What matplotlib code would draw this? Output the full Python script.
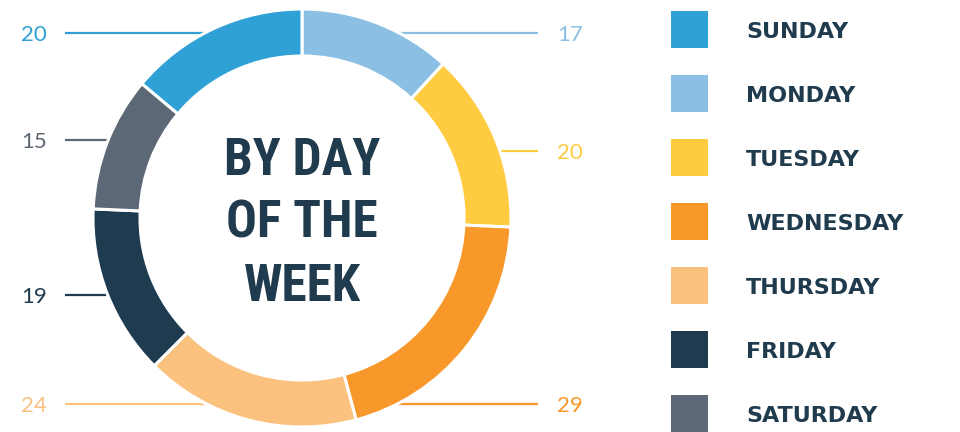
import numpy as np
import matplotlib
matplotlib.use("Agg")
import matplotlib.pyplot as plt
from matplotlib import font_manager as fm
from matplotlib.patches import Rectangle

# datos (orden de la leyenda)
dias = ["SUNDAY", "MONDAY", "TUESDAY", "WEDNESDAY", "THURSDAY", "FRIDAY", "SATURDAY"]
valores = [20, 17, 20, 29, 24, 19, 15]
colores = ["#2fa1d6", "#8bbfe4", "#fecb41", "#f9982a", "#fac17f", "#1f3b4f", "#5d6877"]
titulo = ["BY DAY", "OF THE", "WEEK"]

# posicion de las etiquetas (pixeles desde arriba) y lado
etiqueta_y = [33, 33, 151, 404, 404, 295, 140]
etiqueta_lado = ["izq", "der", "der", "der", "izq", "izq", "izq"]

W, H = 960, 432
cx, cy = 302, H - 218
R = 209
ancho_anillo = 47

nombres = {f.name for f in fm.fontManager.ttflist}
fuente_titulo = "DejaVu Sans"
for candidata in ["Liberation Sans Narrow", "DejaVu Sans Condensed", "Roboto Condensed"]:
    if candidata in nombres:
        fuente_titulo = candidata
        break

fig = plt.figure(figsize=(W / 100, H / 100), dpi=100)
ax = fig.add_axes([0, 0, 1, 1])

# el anillo empieza arriba con el lunes y va en sentido horario
orden = list(range(1, len(dias))) + [0]
ax.pie([valores[i] for i in orden], colors=[colores[i] for i in orden],
       startangle=90, counterclock=False, center=(cx, cy), radius=R,
       wedgeprops=dict(width=ancho_anillo, edgecolor="white", linewidth=2.2))

# lineas guia y numeros
r_fin = R - 9
for i in range(len(dias)):
    y = H - etiqueta_y[i]
    dy = y - cy
    dx = np.sqrt(max(r_fin**2 - dy**2, 0))
    if etiqueta_lado[i] == "izq":
        ax.plot([65, cx - dx], [y, y], color=colores[i], linewidth=1.6, zorder=0.5,
                solid_capstyle="butt")
        ax.text(47, y - 8, str(valores[i]), ha="right", va="baseline",
                fontsize=16, family="Lato", color=colores[i])
    else:
        ax.plot([cx + dx, 538], [y, y], color=colores[i], linewidth=1.6, zorder=0.5,
                solid_capstyle="butt")
        ax.text(557, y - 8, str(valores[i]), ha="left", va="baseline",
                fontsize=16, family="Lato", color=colores[i])

# titulo en el centro
for j, linea in enumerate(titulo):
    ax.text(cx, H - (175 + 63 * j), linea, ha="center", va="baseline",
            fontsize=37, fontweight="bold", family=fuente_titulo,
            fontstretch="condensed", color="#1f3b4d")

# leyenda
for i, dia in enumerate(dias):
    top = 11 + 64 * i
    ax.add_patch(Rectangle((671, H - top - 37), 37, 37, facecolor=colores[i],
                           edgecolor="none"))
    ax.text(746, H - top - 27, dia, ha="left", va="baseline", fontsize=16,
            fontweight="bold", family="DejaVu Sans", color="#1f3b4d")

ax.set_xlim(0, W)
ax.set_ylim(0, H)
ax.set_aspect("equal")
ax.axis("off")

fig.savefig("out.png", dpi=100)
